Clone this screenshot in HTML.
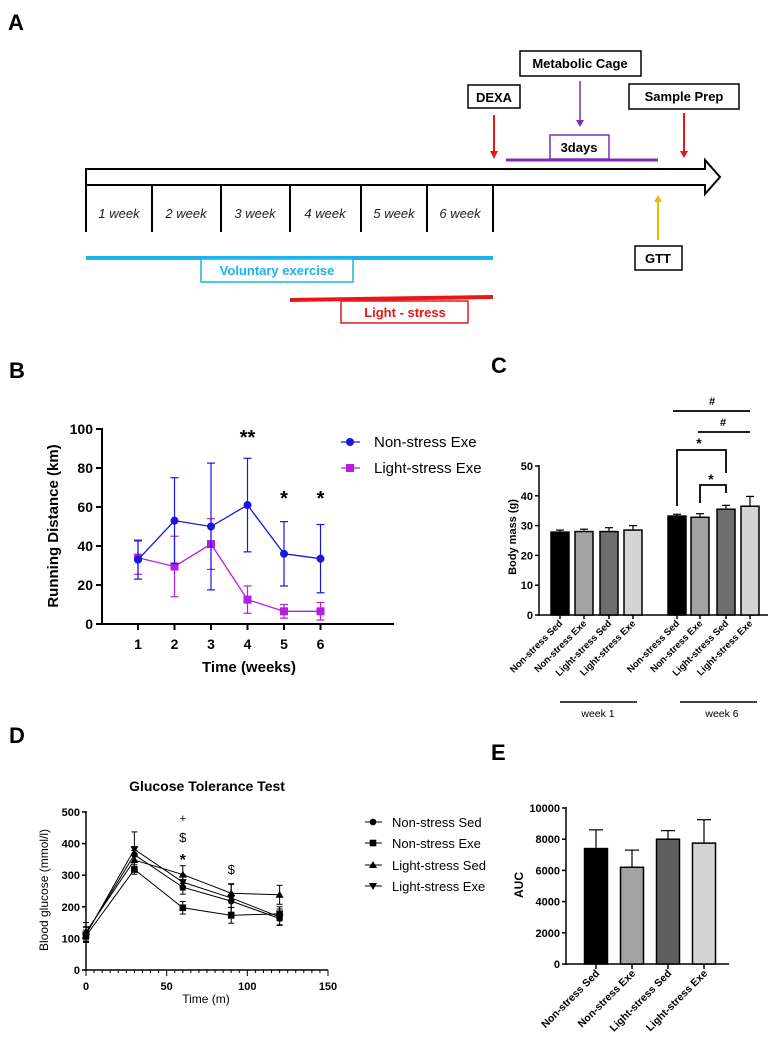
<!DOCTYPE html>
<html><head><meta charset="utf-8"><style>
html,body{margin:0;padding:0;background:#fff;}
svg{display:block;font-family:"Liberation Sans",Arial,sans-serif;}
</style></head><body>
<svg id="fig" width="778" height="1052" viewBox="0 0 778 1052" xmlns="http://www.w3.org/2000/svg">
<!-- Panel A -->
<g>
<text x="8" y="30" font-size="22" font-weight="bold">A</text>
<path d="M86,169 L705,169 L705,160 L720,177 L705,194 L705,185 L86,185 Z" fill="none" stroke="#000" stroke-width="2"/>
<g stroke="#000" stroke-width="2">
<line x1="86" y1="185" x2="86" y2="232"/><line x1="152" y1="185" x2="152" y2="232"/><line x1="221" y1="185" x2="221" y2="232"/><line x1="290" y1="185" x2="290" y2="232"/><line x1="361" y1="185" x2="361" y2="232"/><line x1="427" y1="185" x2="427" y2="232"/><line x1="493" y1="185" x2="493" y2="232"/>
</g>
<g font-size="13" font-style="italic" fill="#222" text-anchor="middle">
<text x="119" y="218">1 week</text><text x="186" y="218">2 week</text><text x="255" y="218">3 week</text><text x="325" y="218">4 week</text><text x="394" y="218">5 week</text><text x="460" y="218">6 week</text>
</g>
<line x1="86" y1="258" x2="493" y2="258" stroke="#1ab3ec" stroke-width="4"/>
<rect x="201" y="259" width="152" height="23" fill="#fff" stroke="#1ab3ec" stroke-width="1.5"/>
<text x="277" y="275" font-size="13" font-weight="bold" fill="#1ab3ec" text-anchor="middle">Voluntary exercise</text>
<polygon points="290,298 493,295 493,299 290,302" fill="#e8181a"/>
<rect x="341" y="301" width="127" height="22" fill="#fff" stroke="#e8181a" stroke-width="1.5"/>
<text x="405" y="317" font-size="13" font-weight="bold" fill="#e8181a" text-anchor="middle">Light - stress</text>
<rect x="468" y="85" width="52" height="23" fill="#fff" stroke="#000" stroke-width="1.5"/>
<text x="494" y="102" font-size="13" font-weight="bold" text-anchor="middle">DEXA</text>
<line x1="494" y1="115" x2="494" y2="152" stroke="#e8181a" stroke-width="2"/><polygon points="490,151 498,151 494,159" fill="#e8181a"/>
<rect x="520" y="51" width="121" height="25" fill="#fff" stroke="#000" stroke-width="1.5"/>
<text x="580" y="68" font-size="13" font-weight="bold" text-anchor="middle">Metabolic Cage</text>
<line x1="580" y1="81" x2="580" y2="121" stroke="#7b2fb0" stroke-width="1.5"/><polygon points="576,120 584,120 580,127" fill="#7b2fb0"/>
<line x1="506" y1="160" x2="658" y2="160" stroke="#7b2fb0" stroke-width="3"/>
<rect x="550" y="135" width="59" height="24" fill="#fff" stroke="#7b2fb0" stroke-width="1.5"/>
<text x="579" y="152" font-size="13" font-weight="bold" text-anchor="middle">3days</text>
<rect x="629" y="84" width="110" height="25" fill="#fff" stroke="#000" stroke-width="1.5"/>
<text x="684" y="101" font-size="13" font-weight="bold" text-anchor="middle">Sample Prep</text>
<line x1="684" y1="113" x2="684" y2="152" stroke="#e8181a" stroke-width="2"/><polygon points="680,151 688,151 684,158" fill="#e8181a"/>
<line x1="658" y1="240" x2="658" y2="201" stroke="#f5b800" stroke-width="2"/><polygon points="654,202 662,202 658,195" fill="#f5b800"/>
<rect x="635" y="246" width="47" height="24" fill="#fff" stroke="#000" stroke-width="1.5"/>
<text x="658" y="263" font-size="13" font-weight="bold" text-anchor="middle">GTT</text>
</g>

<!-- Panel labels -->
<text x="9" y="378" font-size="22" font-weight="bold">B</text>
<text x="491" y="373" font-size="22" font-weight="bold">C</text>
<text x="9" y="743" font-size="22" font-weight="bold">D</text>
<text x="491" y="760" font-size="22" font-weight="bold">E</text>

<g id="panelB"></g>
<g id="panelC"></g>
<g id="panelD"></g>
<g id="panelE"></g>
</svg>
<script>
// ---- Panel B data ----
const bWeeks = [1,2,3,4,5,6];
const bNonStress = [33,53,50,61,36,33.5];
const bNonStressErr = [10,22,32.5,24,16.5,17.5];
const bLight = [34,29.5,41,12.5,6.5,6.5];
const bLightErr = [8.5,15.5,13,7,3.5,4.5];
const bYTicks = [0,20,40,60,80,100];
const bSig = ["","","","**","*","*"];
// ---- Panel C data ----
const cGroups = ["Non-stress Sed","Non-stress Exe","Light-stress Sed","Light-stress Exe","Non-stress Sed","Non-stress Exe","Light-stress Sed","Light-stress Exe"];
const cValues = [27.8,28,28,28.5,33.2,32.8,35.5,36.5];
const cErr = [0.7,0.8,1.3,1.5,0.6,1.2,1.3,3.3];
const cYTicks = [0,10,20,30,40,50];
// ---- Panel D data ----
const dTimes = [0,30,60,90,120];
const dNSSed = [115,365,262,218,163];
const dNSExe = [108,318,197,173,178];
const dLSSed = [120,348,302,243,238];
const dLSExe = [112,382,278,228,168];
const dErr = [[20,25,22,20,22],[18,15,20,25,22],[30,30,28,28,30],[25,55,25,45,25]];
const dSeriesNames = ["Non-stress Sed","Non-stress Exe","Light-stress Sed","Light-stress Exe"];
const dYTicks = [0,100,200,300,400,500];
const dXTicks = [0,50,100,150];
// ---- Panel E data ----
const eGroups = ["Non-stress Sed","Non-stress Exe","Light-stress Sed","Light-stress Exe"];
const eValues = [7400,6200,8000,7750];
const eErr = [1200,1100,550,1500];
const eYTicks = [0,2000,4000,6000,8000,10000];

const NS = "http://www.w3.org/2000/svg";
function mk(parent, tag, attrs, text){
  const e = document.createElementNS(NS, tag);
  for (const k in attrs) e.setAttribute(k, attrs[k]);
  if (text !== undefined) e.textContent = text;
  parent.appendChild(e);
  return e;
}

// ===== Panel B =====
(function(){
  const g = document.getElementById('panelB');
  const xS = w => 138 + (w-1)*36.5;
  const yS = v => 624 - v*1.95;
  let e;
  e = mk(g,'line',{x1:102,y1:428,x2:102,y2:625,stroke:'#000','stroke-width':2});
  
  
  e = mk(g,'line',{x1:101,y1:624,x2:394,y2:624,stroke:'#000','stroke-width':2});
  
  
  bYTicks.forEach(t=>{
    mk(g,'line',{x1:96,y1:yS(t),x2:102,y2:yS(t),stroke:'#000','stroke-width':2});
    e = mk(g,'text',{x:93,y:yS(t)+5,'font-size':14,'font-weight':'bold','text-anchor':'end'},String(t));
    
    
  });
  bWeeks.forEach(w=>{
    mk(g,'line',{x1:xS(w),y1:624,x2:xS(w),y2:630,stroke:'#000','stroke-width':2});
    e = mk(g,'text',{x:xS(w),y:649,'font-size':14,'font-weight':'bold','text-anchor':'middle'},String(w));
    
    
  });
  e = mk(g,'text',{x:249,y:672,'font-size':15,'font-weight':'bold','text-anchor':'middle'},'Time (weeks)');
  
  
  e = mk(g,'text',{x:0,y:0,'font-size':15,'font-weight':'bold','text-anchor':'middle',transform:'translate(58,526) rotate(-90)'},'Running Distance (km)');
  
  
  function series(vals, errs, color, shape, name){
    const sg = mk(g,'g',{});
    
    
    bWeeks.forEach((w,i)=>{
      const x=xS(w), t=yS(vals[i]+errs[i]), b=yS(vals[i]-errs[i]);
      mk(sg,'line',{x1:x,y1:t,x2:x,y2:b,stroke:color,'stroke-width':1.2});
      mk(sg,'line',{x1:x-4,y1:t,x2:x+4,y2:t,stroke:color,'stroke-width':1.2});
      mk(sg,'line',{x1:x-4,y1:b,x2:x+4,y2:b,stroke:color,'stroke-width':1.2});
    });
    mk(sg,'polyline',{points:bWeeks.map((w,i)=>xS(w)+','+yS(vals[i])).join(' '),fill:'none',stroke:color,'stroke-width':1.3});
    bWeeks.forEach((w,i)=>{
      let m;
      if(shape==='c') m = mk(sg,'circle',{cx:xS(w),cy:yS(vals[i]),r:4,fill:color});
      else m = mk(sg,'rect',{x:xS(w)-4,y:yS(vals[i])-4,width:8,height:8,fill:color});
      
      
    });
  }
  series(bLight,bLightErr,'#b41ee0','s','light-stress-exe-series');
  series(bNonStress,bNonStressErr,'#1717e0','c','non-stress-exe-series');
  bWeeks.forEach((w,i)=>{
    if(bSig[i]){
      e = mk(g,'text',{x:xS(w),y:(i===3?444:505),'font-size':20,'font-weight':'bold','text-anchor':'middle'},bSig[i]);
      
      
    }
  });
  const lg = mk(g,'g',{});
  
  
  mk(lg,'line',{x1:341,y1:442,x2:360,y2:442,stroke:'#1717e0','stroke-width':1.3});
  mk(lg,'circle',{cx:350,cy:442,r:4,fill:'#1717e0'});
  e = mk(lg,'text',{x:374,y:447,'font-size':15},'Non-stress Exe');
  
  
  mk(lg,'line',{x1:341,y1:468,x2:360,y2:468,stroke:'#b41ee0','stroke-width':1.3});
  mk(lg,'rect',{x:346,y:464,width:8,height:8,fill:'#b41ee0'});
  e = mk(lg,'text',{x:374,y:473,'font-size':15},'Light-stress Exe');
  
  
})();

// ===== Panel C =====
(function(){
  const g = document.getElementById('panelC');
  const centers = [560,584,609,633,677,700,726,750];
  const fills = ['#000','#a2a2a2','#6e6e6e','#d4d4d4'];
  const yS = v => 615 - v*2.98;
  let e;
  e = mk(g,'line',{x1:539,y1:465,x2:539,y2:616,stroke:'#000','stroke-width':1.5});
  
  
  e = mk(g,'line',{x1:538,y1:615,x2:768,y2:615,stroke:'#000','stroke-width':1.5});
  
  
  cYTicks.forEach(t=>{
    mk(g,'line',{x1:535,y1:yS(t),x2:539,y2:yS(t),stroke:'#000','stroke-width':1.5});
    e = mk(g,'text',{x:533,y:yS(t)+4,'font-size':11,'font-weight':'bold','text-anchor':'end'},String(t));
    
    
  });
  e = mk(g,'text',{x:0,y:0,'font-size':11,'font-weight':'bold','text-anchor':'middle',transform:'translate(516,537) rotate(-90)'},'Body mass (g)');
  
  
  cValues.forEach((v,i)=>{
    const x=centers[i], top=yS(v), et=yS(v+cErr[i]);
    mk(g,'line',{x1:x,y1:et,x2:x,y2:top,stroke:'#000','stroke-width':1.2});
    mk(g,'line',{x1:x-4,y1:et,x2:x+4,y2:et,stroke:'#000','stroke-width':1.2});
    e = mk(g,'rect',{x:x-9,y:top,width:18,height:615-top,fill:fills[i%4],stroke:'#000','stroke-width':1.5});
    
    
    mk(g,'line',{x1:x,y1:615,x2:x,y2:619,stroke:'#000','stroke-width':1.5});
    e = mk(g,'text',{x:0,y:0,'font-size':9.5,'font-weight':'bold','text-anchor':'end',transform:'translate('+(x+3)+',624) rotate(-45)'},cGroups[i]);
    
    
  });
  mk(g,'line',{x1:560,y1:702,x2:637,y2:702,stroke:'#000','stroke-width':1.5});
  e = mk(g,'text',{x:598,y:717,'font-size':10.5,'text-anchor':'middle'},'week 1');
  
  
  mk(g,'line',{x1:680,y1:702,x2:757,y2:702,stroke:'#000','stroke-width':1.5});
  e = mk(g,'text',{x:722,y:717,'font-size':10.5,'text-anchor':'middle'},'week 6');
  
  
  // significance
  const sg = mk(g,'g',{stroke:'#000','stroke-width':1.8,fill:'none'});
  
  
  mk(sg,'line',{x1:673,y1:411,x2:750,y2:411});
  mk(sg,'line',{x1:698,y1:432,x2:750,y2:432});
  mk(sg,'polyline',{points:'677,506 677,450 726,450 726,473'});
  mk(sg,'polyline',{points:'700,503 700,485 726,485 726,493'});
  [['#',712,405,11],['#',723,426,11],['*',699,448,14],['*',711,484,14]].forEach(s=>{
    e = mk(g,'text',{x:s[1],y:s[2],'font-size':s[3],'font-weight':'bold','text-anchor':'middle'},s[0]);
    
    
  });
})();

// ===== Panel D =====
(function(){
  const g = document.getElementById('panelD');
  const xS = t => 86 + t*(242/150);
  const yS = v => 970 - v*0.316;
  let e;
  e = mk(g,'text',{x:207,y:791,'font-size':14,'font-weight':'bold','text-anchor':'middle'},'Glucose Tolerance Test');
  
  
  e = mk(g,'line',{x1:86,y1:811,x2:86,y2:971,stroke:'#000','stroke-width':1.5});
  
  
  e = mk(g,'line',{x1:85,y1:970,x2:328,y2:970,stroke:'#000','stroke-width':1.5});
  
  
  dYTicks.forEach(t=>{
    mk(g,'line',{x1:82,y1:yS(t),x2:86,y2:yS(t),stroke:'#000','stroke-width':1.5});
    e = mk(g,'text',{x:80,y:yS(t)+4,'font-size':11,'font-weight':'bold','text-anchor':'end'},String(t));
    
    
  });
  for(let t=0;t<=150;t+=5){
    mk(g,'line',{x1:xS(t),y1:970,x2:xS(t),y2:(t%50===0?976:973),stroke:'#000','stroke-width':1});
  }
  dXTicks.forEach(t=>{
    e = mk(g,'text',{x:xS(t),y:990,'font-size':11,'font-weight':'bold','text-anchor':'middle'},String(t));
    
    
  });
  e = mk(g,'text',{x:206,y:1003,'font-size':12,'text-anchor':'middle'},'Time (m)');
  
  
  e = mk(g,'text',{x:0,y:0,'font-size':12,'text-anchor':'middle',transform:'translate(48,890) rotate(-90)'},'Blood glucose (mmol/l)');
  
  
  const all=[dNSSed,dNSExe,dLSSed,dLSExe];
  const shapes=['c','s','u','d'];
  function marker(p,shape,x,y){
    if(shape==='c') return mk(p,'circle',{cx:x,cy:y,r:3.3,fill:'#000'});
    if(shape==='s') return mk(p,'rect',{x:x-3.3,y:y-3.3,width:6.6,height:6.6,fill:'#000'});
    if(shape==='u') return mk(p,'polygon',{points:(x-4)+','+(y+3)+' '+(x+4)+','+(y+3)+' '+x+','+(y-4),fill:'#000'});
    return mk(p,'polygon',{points:(x-4)+','+(y-3)+' '+(x+4)+','+(y-3)+' '+x+','+(y+4),fill:'#000'});
  }
  all.forEach((vals,s)=>{
    const sg=mk(g,'g',{});
    
    
    dTimes.forEach((t,i)=>{
      const x=xS(t), tp=yS(vals[i]+dErr[s][i]), bt=yS(vals[i]-dErr[s][i]);
      mk(sg,'line',{x1:x,y1:tp,x2:x,y2:bt,stroke:'#000','stroke-width':1});
      mk(sg,'line',{x1:x-3,y1:tp,x2:x+3,y2:tp,stroke:'#000','stroke-width':1});
      mk(sg,'line',{x1:x-3,y1:bt,x2:x+3,y2:bt,stroke:'#000','stroke-width':1});
    });
    mk(sg,'polyline',{points:dTimes.map((t,i)=>xS(t)+','+yS(vals[i])).join(' '),fill:'none',stroke:'#000','stroke-width':1});
    dTimes.forEach((t,i)=>{
      const m=marker(sg,shapes[s],xS(t),yS(vals[i]));
      
      
    });
  });
  [['+',60,822,11],['$',60,842,13],['*',60,865,16],['$',90,874,13]].forEach(a=>{
    e = mk(g,'text',{x:xS(a[1]),y:a[2],'font-size':a[3],'text-anchor':'middle','font-weight':(a[0]==='*'?'bold':'normal')},a[0]);
    
    
  });
  const lg=mk(g,'g',{});
  
  
  const ly=[822,843,865,886];
  dSeriesNames.forEach((n,i)=>{
    mk(lg,'line',{x1:365,y1:ly[i],x2:382,y2:ly[i],stroke:'#000','stroke-width':1});
    marker(lg,shapes[i],373,ly[i]);
    e = mk(lg,'text',{x:392,y:ly[i]+5,'font-size':13},n);
    
    
  });
})();

// ===== Panel E =====
(function(){
  const g=document.getElementById('panelE');
  const centers=[596,632,668,704];
  const fills=['#000','#a2a2a2','#5e5e5e','#d4d4d4'];
  const yS = v => 964 - v*0.0156;
  let e;
  e = mk(g,'line',{x1:566,y1:807,x2:566,y2:965,stroke:'#000','stroke-width':1.5});
  
  
  e = mk(g,'line',{x1:565,y1:964,x2:729,y2:964,stroke:'#000','stroke-width':1.5});
  
  
  eYTicks.forEach(t=>{
    mk(g,'line',{x1:562,y1:yS(t),x2:566,y2:yS(t),stroke:'#000','stroke-width':1.5});
    e = mk(g,'text',{x:560,y:yS(t)+4,'font-size':11,'font-weight':'bold','text-anchor':'end'},String(t));
    
    
  });
  e = mk(g,'text',{x:0,y:0,'font-size':12,'font-weight':'bold','text-anchor':'middle',transform:'translate(523,885) rotate(-90)'},'AUC');
  
  
  eValues.forEach((v,i)=>{
    const x=centers[i], top=yS(v), et=yS(v+eErr[i]);
    mk(g,'line',{x1:x,y1:et,x2:x,y2:top,stroke:'#000','stroke-width':1.2});
    mk(g,'line',{x1:x-7,y1:et,x2:x+7,y2:et,stroke:'#000','stroke-width':1.2});
    e = mk(g,'rect',{x:x-11.5,y:top,width:23,height:964-top,fill:fills[i],stroke:'#000','stroke-width':1.5});
    
    
    mk(g,'line',{x1:x,y1:964,x2:x,y2:969,stroke:'#000','stroke-width':1.5});
    e = mk(g,'text',{x:0,y:0,'font-size':10.5,'font-weight':'bold','text-anchor':'end',transform:'translate('+(x+4)+',974) rotate(-45)'},eGroups[i]);
    
    
  });
})();
</script>
</body></html>
